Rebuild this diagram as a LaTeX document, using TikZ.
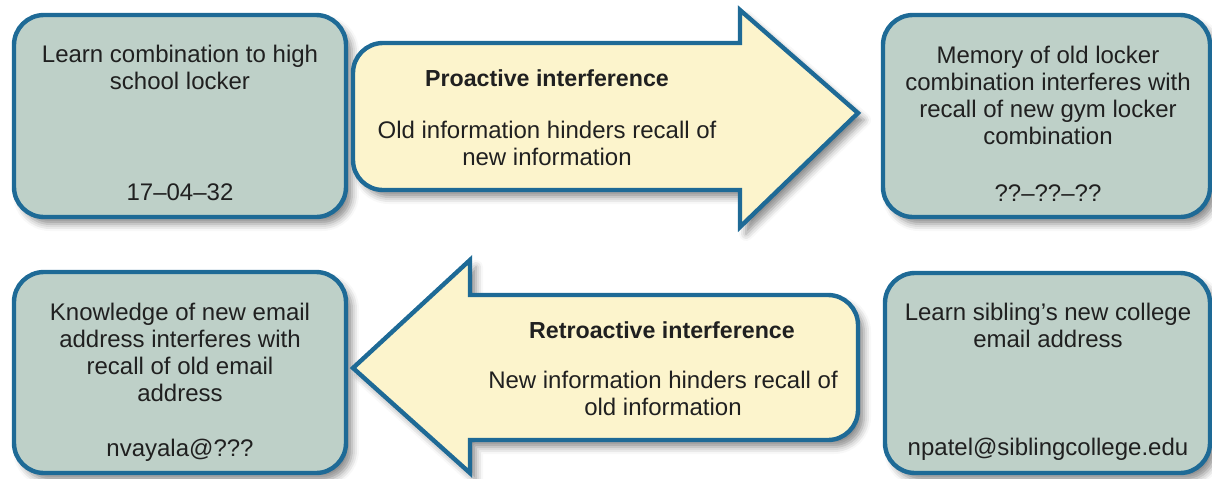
\documentclass[tikz,border=0pt]{standalone}
\usepackage{fontspec}
\setmainfont{Liberation Sans}
\usetikzlibrary{calc, shadows.blur}

\definecolor{edgeblue}{RGB}{30,106,150}
\definecolor{boxsage}{RGB}{190,208,200}
\definecolor{arrowcream}{RGB}{252,244,204}
\definecolor{inkgrey}{RGB}{32,32,32}

\tikzset{
  softshadow/.style={blur shadow={shadow xshift=3pt, shadow yshift=-3.5pt,
      shadow blur radius=3.5pt, shadow opacity=45}},
  memo/.style={draw=edgeblue, line width=2.2pt, fill=boxsage,
      rounded corners=15pt, softshadow, inner sep=0pt},
  flow/.style={draw=edgeblue, line width=2.2pt, fill=arrowcream,
      line join=miter, softshadow},
  txt/.style={text=inkgrey, align=center, inner sep=0pt,
      font=\fontsize{12}{13.5}\selectfont},
  head/.style={txt, font=\fontsize{11.6}{13.5}\selectfont\bfseries}
}

\begin{document}
\begin{tikzpicture}[x=0.5pt, y=-0.5pt]
  \useasboundingbox (0,0) rectangle (1212,478);

  % boxes
  \node[memo, minimum width=166pt, minimum height=101pt] (oldlock) at (180,116) {};
  \node[memo, minimum width=163.5pt, minimum height=101pt] (gymlock) at (1046.5,116) {};
  \node[memo, minimum width=166pt, minimum height=100.5pt] (oldmail) at (180,372.5) {};
  \node[memo, minimum width=162.5pt, minimum height=100pt] (newmail) at (1047.5,373) {};

  % proactive arrow
  \coordinate (ptip) at (858,113);
  \draw[flow] (740,43) -- (740,10) -- (ptip) -- (740,227) -- (740,190)
    -- (383,190) arc[start angle=270, end angle=180, radius=15pt]
    -- (353,73) arc[start angle=180, end angle=90, radius=15pt] -- cycle;

  % retroactive arrow
  \coordinate (rtip) at (353,368);
  \draw[flow] (470,295) -- (828,295) arc[start angle=90, end angle=0, radius=15pt]
    -- (858,410) arc[start angle=0, end angle=-90, radius=15pt]
    -- (470,440) -- (470,473) -- (rtip) -- (470,260) -- cycle;

  % texts
  \node[txt] (oldlockA) at (180,67) {Learn combination to high\\school locker};
  \node[txt] (oldlockB) at (180,192) {17--04--32};

  \node[head] (proT) at (547,78) {Proactive interference};
  \node[txt] (proB) at (547,143) {Old information hinders recall of\\new information};

  \node[txt] (gymlockA) at (1048,95) {Memory of old locker\\combination interferes with\\recall of new gym locker\\combination};
  \node[txt] (gymlockB) at (1048,193) {??--??--??};

  \node[txt] (oldmailA) at (180,352) {Knowledge of new email\\address interferes with\\recall of old email\\address};
  \node[txt] (oldmailB) at (180,450) {nvayala@???};

  \node[head] (retT) at (662,330) {Retroactive interference};
  \node[txt] (retB) at (663,393) {New information hinders recall of\\old information};

  \node[txt] (newmailA) at (1048,325) {Learn sibling’s new college\\email address};
  \node[txt] (newmailB) at (1048,449) {npatel@siblingcollege.edu};
\end{tikzpicture}
\end{document}
